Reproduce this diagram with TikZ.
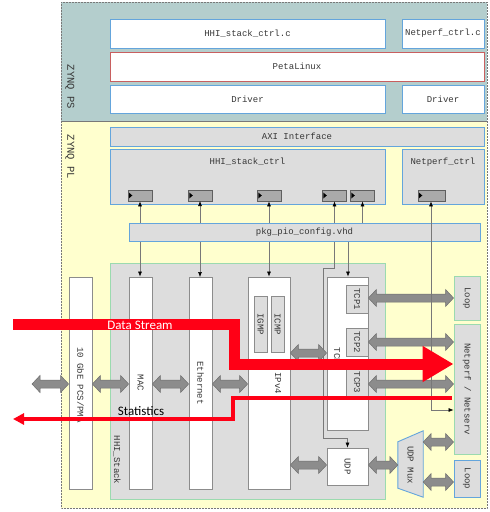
\documentclass[tikz,border=0pt]{standalone}
\usepackage{fontspec}
\setmainfont{Carlito}
\newfontfamily\monofont{Liberation Mono}
\usetikzlibrary{arrows.meta,calc}
\definecolor{psfill}{RGB}{180,206,205}
\definecolor{plfill}{RGB}{255,255,206}
\definecolor{boxgray}{RGB}{221,221,221}
\definecolor{bluebd}{RGB}{100,165,220}
\definecolor{greenbd}{RGB}{155,218,175}
\definecolor{petabd}{RGB}{200,95,95}
\definecolor{blkbd}{RGB}{140,140,140}
\definecolor{regfill}{RGB}{170,170,170}
\definecolor{regbd}{RGB}{95,95,95}
\definecolor{fatfill}{RGB}{140,140,140}
\definecolor{fatbd}{RGB}{110,110,110}
\definecolor{linegray}{RGB}{120,120,120}
\definecolor{txt}{RGB}{55,55,55}
\definecolor{redarr}{RGB}{255,0,22}
\newcommand\mlab{\monofont\fontsize{9}{11}\selectfont}
\newcommand\zlab{\monofont\fontsize{10.5}{12}\selectfont}
\newcommand\fatarr[2]{\draw[fatarrow] let \p1=(#1), \p2=(#2) in
  (\x1,\y1) -- (\x1+8pt,\y1+8.5pt) -- (\x1+8pt,\y1+4pt) -- (\x2-8pt,\y1+4pt)
  -- (\x2-8pt,\y1+8.5pt) -- (\x2,\y1) -- (\x2-8pt,\y1-8.5pt) -- (\x2-8pt,\y1-4pt)
  -- (\x1+8pt,\y1-4pt) -- (\x1+8pt,\y1-8.5pt) -- cycle;}
\begin{document}
\begin{tikzpicture}[x=1pt,y=-1pt,
  psbox/.style={draw=bluebd, fill=white, line width=0.9pt, inner sep=0, font=\mlab, text=txt},
  plbox/.style={draw=bluebd, fill=boxgray, line width=0.9pt, inner sep=0, font=\mlab, text=txt},
  grnbox/.style={draw=greenbd, fill=boxgray, line width=0.9pt, inner sep=0},
  blk/.style={draw=blkbd, fill=white, line width=0.8pt, inner sep=0},
  sub/.style={draw=blkbd, fill=boxgray, line width=0.8pt, inner sep=0},
  rot/.style={rotate=-90, font=\mlab, text=txt, inner sep=0},
  lab/.style={font=\mlab, text=txt, inner sep=0},
  reg/.style={draw=regbd, fill=regfill, line width=0.7pt, minimum width=24, minimum height=11, inner sep=0,
    path picture={\fill[black] (path picture bounding box.west) ++(0.8pt,3pt) -- ++(3.5pt,-3pt) -- ++(-3.5pt,-3pt) -- cycle;}},
  conn/.style={draw=linegray, line width=0.6pt},
  tip/.style={-{Latex[length=5pt,width=4pt,color=black]}},
  fatarrow/.style={fill=fatfill, draw=fatbd, line width=0.5pt, line join=miter},
  redband/.style={draw=redarr, line width=11pt, line join=miter, -{Triangle[length=31pt,width=34pt,color=redarr]}},
  redline/.style={draw=redarr, line width=3.5pt, line join=miter, -{Triangle[length=11pt,width=11pt,color=redarr]}}
]
\useasboundingbox (0,0) rectangle (490,512);
% regions
\fill[psfill] (61,2) rectangle (487,121);
\fill[plfill] (61,121) rectangle (487,508);
\draw[linegray, line width=0.5pt, densely dotted] (61,2) rectangle (487,508);
\draw[linegray, line width=0.4pt] (61,121) -- (487,121);
\node[rotate=-90, font=\zlab, text=txt, inner sep=0] (zps) at (70,87) {ZYNQ PS};
\node[rotate=-90, font=\zlab, text=txt, inner sep=0] (zpl) at (70,157) {ZYNQ PL};
% PS boxes
\node[psbox, minimum width=275, minimum height=29] (hhic) at (247.5,33.5) {HHI\_stack\_ctrl.c};
\node[psbox, minimum width=82, minimum height=29] (npc) at (443,33.5) {Netperf\_ctrl.c};
\node[psbox, draw=petabd, minimum width=374, minimum height=29] (peta) at (297,66.5) {PetaLinux};
\node[psbox, minimum width=275, minimum height=28] (drv1) at (247.5,99) {Driver};
\node[psbox, minimum width=82, minimum height=28] (drv2) at (443,99) {Driver};
% PL control boxes
\node[plbox, minimum width=374, minimum height=19] (axi) at (297,136.5) {AXI Interface};
\node[plbox, minimum width=275, minimum height=55] (hhictrl) at (247.5,176.5) {};
\node[lab] at (247.5,162) {HHI\_stack\_ctrl};
\node[plbox, minimum width=82, minimum height=55] (npctrl) at (443,176.5) {};
\node[lab] at (443,162) {Netperf\_ctrl};
\node[reg] (r1) at (140,195.5) {};
\node[reg] (r2) at (200.5,195.5) {};
\node[reg] (r3) at (269.5,195.5) {};
\node[reg] (r4) at (334.5,195.5) {};
\node[reg] (r5) at (362.5,195.5) {};
\node[reg, minimum width=27] (r6) at (431.5,195.5) {};
% HHI stack
\node[grnbox, minimum width=275, minimum height=236] (stack) at (247.5,381) {};
\node[rot] at (117,460) {HHI\_Stack};
\node[blk, minimum width=23, minimum height=212] (pcs) at (80.5,383) {};
\node[rot] at (80.5,385) {10 GbE PCS/PMA};
\node[blk, minimum width=23, minimum height=212] (mac) at (140.5,383) {};
\node[rot] at (140.5,383) {MAC};
\node[blk, minimum width=23, minimum height=212] (eth) at (200.5,383) {};
\node[rot] at (200.5,383) {Ethernet};
\node[blk, minimum width=42, minimum height=212] (ipv4) at (269,383) {};
\node[rot] at (278,383) {IPv4};
\node[sub, minimum width=13, minimum height=56] (igmp) at (260.5,324) {};
\node[rot] at (260.5,324) {IGMP};
\node[sub, minimum width=13, minimum height=56] (icmp) at (277.5,324) {};
\node[rot] at (277.5,324) {ICMP};
\node[blk, minimum width=41, minimum height=153] (tcp) at (347.5,353.5) {};
\node[rot] at (337,356) {TCP};
\node[sub, minimum width=22, minimum height=28] (tcp1) at (357,299) {};
\node[rot] at (357,299) {TCP1};
\node[sub, minimum width=22, minimum height=28] (tcp2) at (357,342) {};
\node[rot] at (357,342) {TCP2};
\node[sub, minimum width=22, minimum height=27] (tcp3) at (357,382.5) {};
\node[rot] at (357,382.5) {TCP3};
\node[blk, minimum width=41, minimum height=37] (udp) at (347.5,466.5) {};
\node[rot] at (347.5,466.5) {UDP};
\node[minimum width=25, minimum height=66, inner sep=0] (mux) at (410.5,464) {};
\draw[draw=bluebd, fill=boxgray, line width=0.9pt] ([yshift=-11pt]mux.north west) -- (mux.north east) -- (mux.south east) -- ([yshift=9pt]mux.south west) -- cycle;
\node[rot] at (410.5,465) {UDP Mux};
\node[grnbox, minimum width=26, minimum height=44] (loop1) at (467,298) {};
\node[rot] at (467,298) {Loop};
\node[grnbox, minimum width=26, minimum height=130] (nps) at (467,389) {};
\node[rot] at (467,389) {Netperf / Netserv};
\node[grnbox, draw=bluebd, minimum width=26, minimum height=37] (loop2) at (467,478.5) {};
\node[rot] at (467,478.5) {Loop};
% thin connectors (behind pkg)
\draw[conn, {Latex[length=5pt,width=4pt,color=black]}-{Latex[length=5pt,width=4pt,color=black]}] (r1.south) -- (r1.south |- mac.north);
\draw[conn, {Latex[length=5pt,width=4pt,color=black]}-{Latex[length=5pt,width=4pt,color=black]}] (200,201) -- (200,277);
\draw[conn, {Latex[length=5pt,width=4pt,color=black]}-{Latex[length=5pt,width=4pt,color=black]}] (r3.south -| 269,0) -- (ipv4.north);
\draw[conn, {Latex[length=5pt,width=4pt,color=black]}-{Latex[length=5pt,width=4pt,color=black]}] (r4.south) -- (334.5,268) -- (323,268) -- (323,438) -- (udp.north |- 0,438) -- (udp.north);
\draw[conn, {Latex[length=5pt,width=4pt,color=black]}-] (r5.south) -- (r5.south |- 0,232);
\coordinate (tcpin) at (348,232);
\draw[conn, tip] (tcpin) -- (tcpin |- tcp.north);
% pkg
\node[plbox, minimum width=351, minimum height=18] (pkg) at (304.5,232) {pkg\_pio\_config.vhd};
% fat arrows
\coordinate (ext) at (32,384);
\fatarr{ext}{pcs.west |- 0,384}
\fatarr{pcs.east |- 0,384}{mac.west |- 0,384}
\fatarr{mac.east |- 0,384}{eth.west |- 0,384}
\fatarr{eth.east |- 0,384}{ipv4.west |- 0,384}
\fatarr{ipv4.east |- 0,353}{tcp.west |- 0,353}
\fatarr{ipv4.east |- 0,465}{udp.west |- 0,465}
\fatarr{tcp1.east |- 0,298}{loop1.west |- 0,298}
\fatarr{tcp2.east |- 0,342}{nps.west |- 0,342}
\fatarr{tcp3.east |- 0,384}{nps.west |- 0,384}
\fatarr{udp.east |- 0,465}{mux.west |- 0,465}
\fatarr{mux.east |- 0,442}{nps.west |- 0,442}
\fatarr{mux.east |- 0,482}{loop2.west |- 0,482}
% netperf control line
\draw[conn, {Latex[length=5pt,width=4pt,color=black]}-{Latex[length=5pt,width=4pt,color=black]}] (r6.south -| 431,0) -- (431,410) -- (nps.west |- 0,410);
% red flows
\coordinate (dsS) at (13,324);
\draw[redband] (dsS) -- (234,324) -- (234,364) -- (nps.west |- 0,364);
\node[text=white, font=\fontsize{13}{15}\selectfont, inner sep=0] (dslab) at (140,325) {Data Stream};
\coordinate (stE) at (13,419);
\draw[redline] (452,398) -- (233,398) -- (233,419) -- (stE);
\node[text=black, font=\fontsize{13}{15}\selectfont, inner sep=0] (stlab) at (141,411) {Statistics};
\end{tikzpicture}
\end{document}
